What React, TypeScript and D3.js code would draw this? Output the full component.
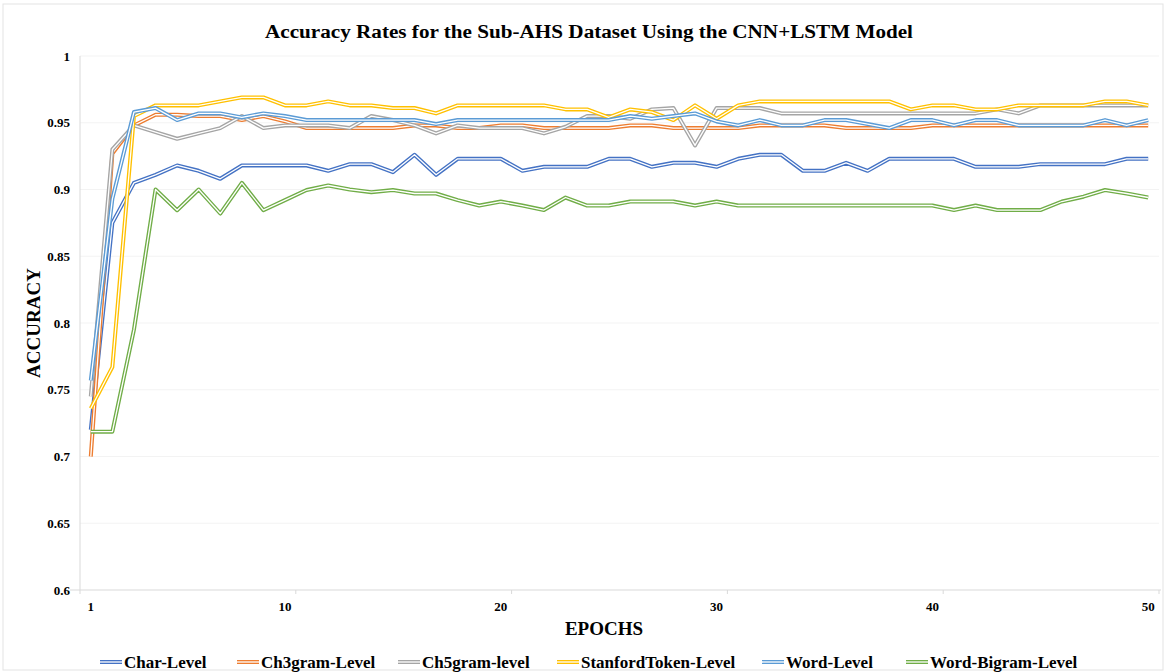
import React from "react";
import * as d3 from "d3";

const epochs: number[] = d3.range(1, 51);
const xTickLabels: number[] = [1, 10, 20, 30, 40, 50];
const yTicks: number[] = [0.6, 0.65, 0.7, 0.75, 0.8, 0.85, 0.9, 0.95, 1];

const charLevel: number[] = [
  0.72, 0.875, 0.905, 0.911, 0.918, 0.914, 0.908, 0.918, 0.918, 0.918,
  0.918, 0.914, 0.919, 0.919, 0.913, 0.926, 0.911, 0.923, 0.923, 0.923,
  0.914, 0.917, 0.917, 0.917, 0.923, 0.923, 0.917, 0.92, 0.92, 0.917,
  0.923, 0.926, 0.926, 0.914, 0.914, 0.92, 0.914, 0.923, 0.923, 0.923,
  0.923, 0.917, 0.917, 0.917, 0.919, 0.919, 0.919, 0.919, 0.923, 0.923,
];
const ch3gram: number[] = [
  0.7, 0.927, 0.948, 0.956, 0.956, 0.955, 0.955, 0.952, 0.955, 0.951,
  0.946, 0.946, 0.946, 0.946, 0.946, 0.948, 0.948, 0.946, 0.946, 0.948,
  0.948, 0.946, 0.946, 0.946, 0.946, 0.948, 0.948, 0.946, 0.946, 0.946,
  0.946, 0.948, 0.948, 0.948, 0.948, 0.946, 0.946, 0.946, 0.946, 0.948,
  0.948, 0.948, 0.948, 0.948, 0.948, 0.948, 0.948, 0.948, 0.948, 0.948,
];
const ch5gram: number[] = [
  0.745, 0.93, 0.948, 0.943, 0.938, 0.942, 0.946, 0.955, 0.946, 0.948,
  0.948, 0.948, 0.946, 0.955, 0.952, 0.948, 0.942, 0.948, 0.946, 0.946,
  0.946, 0.942, 0.947, 0.955, 0.955, 0.953, 0.96, 0.961, 0.933, 0.961,
  0.961, 0.961, 0.957, 0.957, 0.957, 0.957, 0.957, 0.957, 0.957, 0.957,
  0.957, 0.957, 0.96, 0.957, 0.963, 0.963, 0.963, 0.963, 0.963, 0.963,
];
const stanfordToken: number[] = [
  0.736, 0.767, 0.955, 0.963, 0.963, 0.963, 0.966, 0.969, 0.969, 0.963,
  0.963, 0.966, 0.963, 0.963, 0.961, 0.961, 0.957, 0.963, 0.963, 0.963,
  0.963, 0.963, 0.96, 0.96, 0.954, 0.96, 0.958, 0.952, 0.963, 0.953,
  0.963, 0.966, 0.966, 0.966, 0.966, 0.966, 0.966, 0.966, 0.96, 0.963,
  0.963, 0.96, 0.96, 0.963, 0.963, 0.963, 0.963, 0.966, 0.966, 0.963,
];
const wordLevel: number[] = [
  0.757, 0.893, 0.958, 0.961, 0.952, 0.957, 0.957, 0.954, 0.957, 0.955,
  0.952, 0.952, 0.952, 0.952, 0.952, 0.952, 0.949, 0.952, 0.952, 0.952,
  0.952, 0.952, 0.952, 0.952, 0.952, 0.955, 0.953, 0.955, 0.957, 0.951,
  0.948, 0.952, 0.948, 0.948, 0.952, 0.952, 0.949, 0.946, 0.952, 0.952,
  0.948, 0.952, 0.952, 0.948, 0.948, 0.948, 0.948, 0.952, 0.948, 0.952,
];
const wordBigram: number[] = [
  0.7186, 0.7186, 0.795, 0.9, 0.8845, 0.9, 0.882, 0.905, 0.8845, 0.892,
  0.8996, 0.903, 0.9, 0.898, 0.8996, 0.897, 0.897, 0.892, 0.888, 0.891,
  0.888, 0.8846, 0.894, 0.888, 0.888, 0.891, 0.891, 0.891, 0.888, 0.891,
  0.888, 0.888, 0.888, 0.888, 0.888, 0.888, 0.888, 0.888, 0.888, 0.888,
  0.8846, 0.888, 0.8846, 0.8846, 0.8846, 0.891, 0.8946, 0.8996, 0.897, 0.894,
];

const seriesNames: string[] = [
  "Char-Level",
  "Ch3gram-Level",
  "Ch5gram-level",
  "StanfordToken-Level",
  "Word-Level",
  "Word-Bigram-Level",
];
const seriesValues: number[][] = [charLevel, ch3gram, ch5gram, stanfordToken, wordLevel, wordBigram];
const seriesColors: string[] = ["#4472C4", "#ED7D31", "#A5A5A5", "#FFC000", "#5B9BD5", "#70AD47"];

const W = 1166;
const H = 672;
const plotLeft = 80;
const plotRight = 1159;
const plotTop = 56;
const plotBottom = 590;
const FONT = "'Liberation Serif', 'Times New Roman', serif";

const legendX: number[] = [100, 237, 398, 557, 762, 906];

export default function App() {
  const x = d3.scalePoint<number>().domain(epochs).range([plotLeft, plotRight]).padding(0.5);
  const y = d3.scaleLinear().domain([0.6, 1]).range([plotBottom, plotTop]);
  const step = x.step();
  const line = d3
    .line<number>()
    .x((_, i) => x(epochs[i]) as number)
    .y((d) => y(d));

  const catTicks = d3.range(0, 51, 10).map((k) => plotLeft + k * step);

  return (
    <svg
      width={W}
      height={H}
      style={{ position: "absolute", left: 0, top: 0, background: "#fff" }}
      fontFamily={FONT}
    >
      <rect x={3} y={4} width={W - 6} height={H - 6} fill="#fff" stroke="#e3e3e3" strokeWidth={1} />
      <text
        x={589}
        y={38}
        textAnchor="middle"
        fontSize={18}
        fontWeight="bold"
        textLength={648}
        lengthAdjust="spacingAndGlyphs"
      >
        Accuracy Rates for the Sub-AHS Dataset Using the CNN+LSTM Model
      </text>

      {yTicks.slice(1).map((t) => (
        <line key={"g" + t} x1={plotLeft} x2={plotRight} y1={y(t)} y2={y(t)} stroke="#f3f3f3" strokeWidth={1} />
      ))}

      <line x1={plotLeft} x2={plotLeft} y1={plotTop} y2={plotBottom} stroke="#d9d9d9" strokeWidth={1} />
      <line x1={70} x2={plotRight + 2} y1={plotBottom} y2={plotBottom} stroke="#d9d9d9" strokeWidth={1.2} />
      {catTicks.map((cx, i) => (
        <line key={"ct" + i} x1={cx} x2={cx} y1={plotBottom} y2={plotBottom + 4} stroke="#d9d9d9" strokeWidth={1} />
      ))}

      {yTicks.map((t) => (
        <text key={"yl" + t} x={70} y={y(t) + 4.5} textAnchor="end" fontSize={13} fontWeight="bold">
          {String(t)}
        </text>
      ))}
      {xTickLabels.map((t) => (
        <text key={"xl" + t} x={x(t) as number} y={611} textAnchor="middle" fontSize={13} fontWeight="bold">
          {t}
        </text>
      ))}

      <text x={604} y={635} textAnchor="middle" fontSize={19} fontWeight="bold">
        EPOCHS
      </text>
      <text
        transform={`translate(40, 323) rotate(-90)`}
        textAnchor="middle"
        fontSize={19}
        fontWeight="bold"
      >
        ACCURACY
      </text>

      <g fill="none" strokeLinejoin="round">
        {seriesValues.map((vals, i) => (
          <g key={"s" + i}>
            <path d={line(vals) as string} stroke={seriesColors[i]} strokeWidth={4} />
            <path d={line(vals) as string} stroke="#fff" strokeWidth={1.3} />
          </g>
        ))}
      </g>

      {seriesNames.map((name, i) => (
        <g key={"lg" + i} transform={`translate(${legendX[i]}, 662)`}>
          <line x1={0} x2={22} y1={0} y2={0} stroke={seriesColors[i]} strokeWidth={4} />
          <line x1={0} x2={22} y1={0} y2={0} stroke="#fff" strokeWidth={1.3} />
          <text x={24} y={6} fontSize={17} fontWeight="bold">
            {name}
          </text>
        </g>
      ))}
    </svg>
  );
}
